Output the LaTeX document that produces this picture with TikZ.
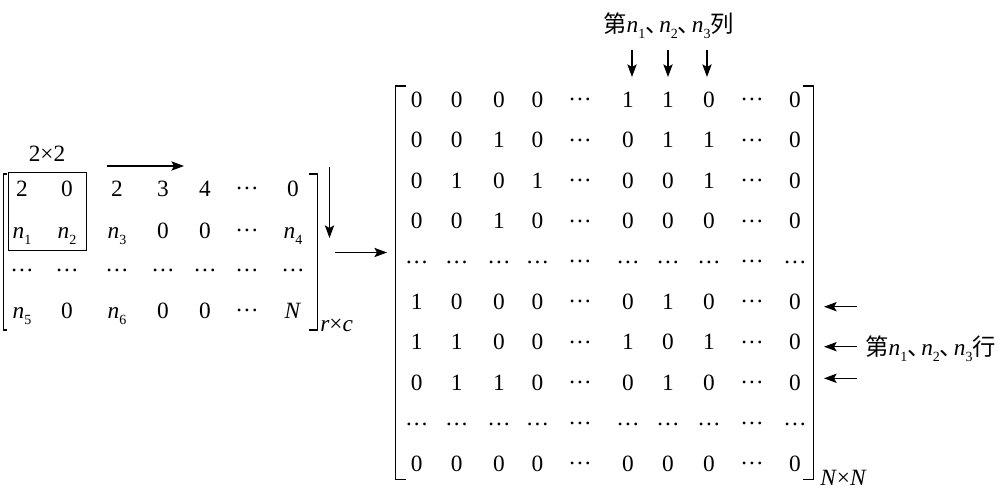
\documentclass[tikz,border=0pt]{standalone}
\usepackage{fontspec}
\setmainfont{LiberationSerif}[Extension=.ttf,UprightFont=*-Regular,ItalicFont=*-Italic,BoldFont=*-Bold]
\newfontfamily\cjk{Noto Sans CJK SC}
\usetikzlibrary{arrows.meta}
\newcommand{\nsub}[2]{\textit{#1}\raisebox{-4.5pt}{\fontsize{10.5}{10.5}\selectfont #2}}
\newcommand{\cd}{\raisebox{5pt}{…}}
\newcommand{\ld}{\raisebox{4pt}{…}}
\newcommand{\dun}{\makebox[0.6em][l]{\cjk 、}}
\begin{document}
\begin{tikzpicture}[x=0.75pt,y=-0.75pt,
  font=\fontsize{17.5}{21}\selectfont,
  ent/.style={anchor=base,inner sep=0pt},
  arr/.style={-{Stealth[length=9.5pt,width=7pt,inset=2pt]},line width=0.85pt},
  brk/.style={line width=1.1pt}]
\useasboundingbox (0,0) rectangle (1000,496);

% ---------- left matrix ----------
\def\Lx{{22,67,117,163,205,247,293}}
\def\Ly{{196.5,238,276.4,318}}
\foreach \row [count=\r] in {
  {2,0,2,3,4,\cd,0},
  {\nsub{n}{1},\nsub{n}{2},\nsub{n}{3},0,0,\cd,\nsub{n}{4}},
  {\ld,\ld,\ld,\ld,\ld,\ld,\ld},
  {\nsub{n}{5},0,\nsub{n}{6},0,0,\cd,\textit{N}}}{
  \foreach \e [count=\c] in \row {
    \pgfmathsetmacro{\xx}{\Lx[\c-1]}
    \pgfmathsetmacro{\yy}{\Ly[\r-1]}
    \node[ent] (L-\r-\c) at (\xx,\yy) {\e};
  }
}
\draw[brk] (7,174) -- (3.3,174) -- (3.3,330) -- (7,330);
\draw[brk] (309,174) -- (317.3,174) -- (317.3,330) -- (309,330);
\node[draw,line width=0.75pt,minimum width=58.5pt,minimum height=58.5pt,inner sep=0pt] (box) at (47,211) {};
\node[inner sep=0pt] (lab22) at (47,154) {2×2};
\node[anchor=base west,inner sep=0pt] (rc) at (320,331) {\textit{r}×\textit{c}};

% arrows around left matrix
\coordinate (ha1) at (107,166); \coordinate (ha2) at (184,166);
\coordinate (va1) at (329.5,167); \coordinate (va2) at (329.5,238);
\coordinate (ra1) at (335,252.5); \coordinate (ra2) at (387,252.5);
\draw[arr] (ha1) -- (ha2);
\draw[arr] (va1) -- (va2);
\draw[arr] (ra1) -- (ra2);

% ---------- big matrix ----------
\def\Bx{{416.7,456.7,499,537.5,580,628,668,709,752,795}}
\foreach \row [count=\r] in {
  {0,0,0,0,\cd,1,1,0,\cd,0},
  {0,0,1,0,\cd,0,1,1,\cd,0},
  {0,1,0,1,\cd,0,0,1,\cd,0},
  {0,0,1,0,\cd,0,0,0,\cd,0},
  {\ld,\ld,\ld,\ld,\cd,\ld,\ld,\ld,\cd,\ld},
  {1,0,0,0,\cd,0,1,0,\cd,0},
  {1,1,0,0,\cd,1,0,1,\cd,0},
  {0,1,1,0,\cd,0,1,0,\cd,0},
  {\ld,\ld,\ld,\ld,\cd,\ld,\ld,\ld,\cd,\ld},
  {0,0,0,0,\cd,0,0,0,\cd,0}}{
  \foreach \e [count=\c] in \row {
    \pgfmathsetmacro{\xx}{\Bx[\c-1]}
    \pgfmathsetmacro{\yy}{100+40.4*(\r-1)+7.5}
    \node[ent] (B-\r-\c) at (\xx,\yy) {\e};
  }
}
\draw[brk] (406,86) -- (395.7,86) -- (395.7,479.5) -- (406,479.5);
\draw[brk] (803,86) -- (813.3,86) -- (813.3,479.5) -- (803,479.5);
\node[anchor=base west,inner sep=0pt] (nn) at (820,485) {\textit{N}×\textit{N}};

% column label and arrows
\node[anchor=base west,inner sep=0pt] (collab) at (603,32)
  {{\cjk 第}\nsub{n}{1}\dun\nsub{n}{2}\dun\nsub{n}{3}{\cjk 列}};
\foreach \x [count=\i] in {632,668,707}{
  \coordinate (ca\i) at (\x,50); \coordinate (cb\i) at (\x,77);
  \draw[arr] (ca\i) -- (cb\i);
}
% row label and arrows
\node[anchor=base west,inner sep=0pt] (rowlab) at (865,355)
  {{\cjk 第}\nsub{n}{1}\dun\nsub{n}{2}\dun\nsub{n}{3}{\cjk 行}};
\foreach \y [count=\i] in {306.7,346.7,378.3}{
  \coordinate (rs\i) at (857,\y); \coordinate (re\i) at (824,\y);
  \draw[arr] (rs\i) -- (re\i);
}
\end{tikzpicture}
\end{document}
